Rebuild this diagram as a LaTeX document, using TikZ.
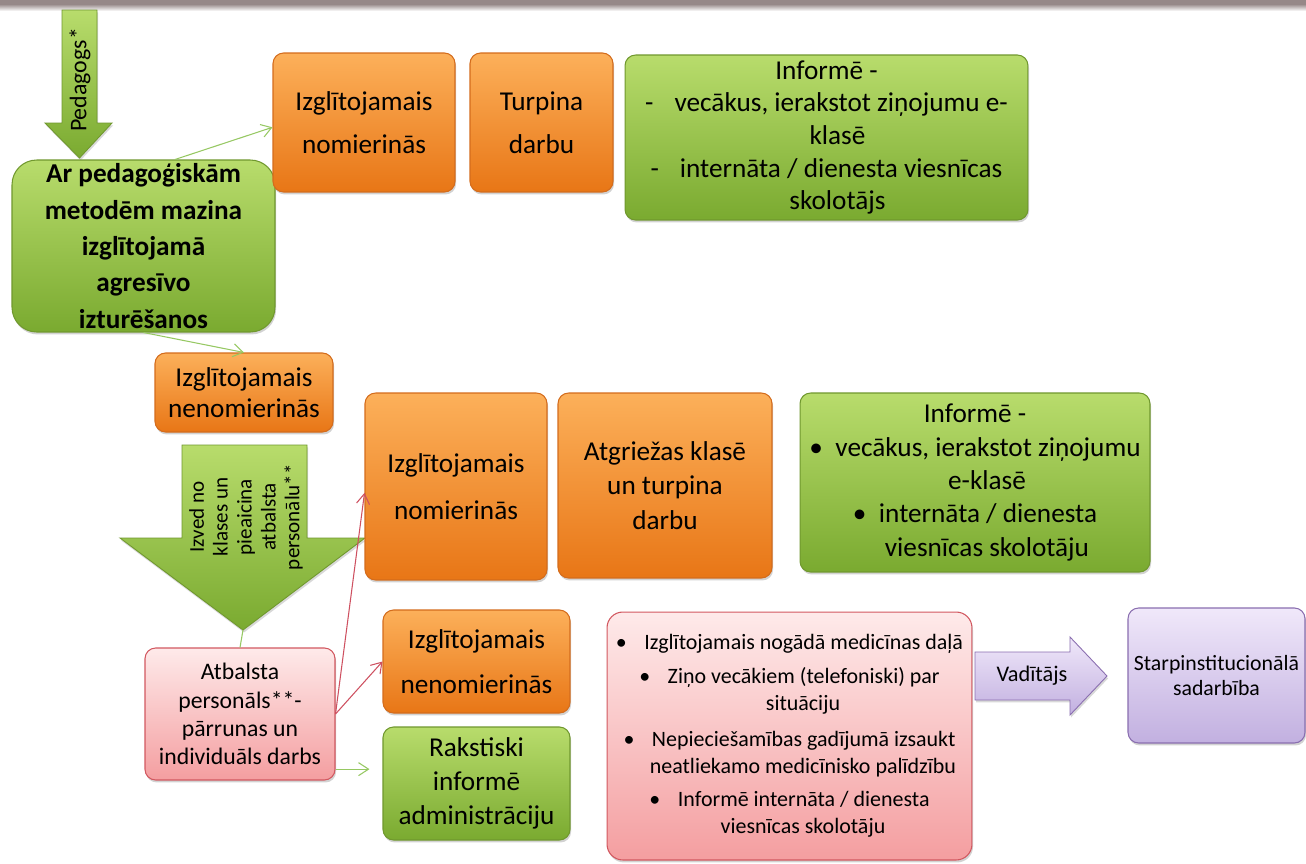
\documentclass[tikz,border=0pt]{standalone}
\usepackage{fontspec}
\setmainfont{Carlito}
\usepackage{tikz}
\usetikzlibrary{arrows.meta, shadows}
\definecolor{orgtop}{RGB}{252,176,90}
\definecolor{orgbot}{RGB}{232,118,22}
\definecolor{orgline}{RGB}{212,108,28}
\definecolor{grntop}{RGB}{184,220,108}
\definecolor{grnbot}{RGB}{122,170,48}
\definecolor{grnline}{RGB}{112,152,46}
\definecolor{pnktop}{RGB}{254,234,234}
\definecolor{pnkbot}{RGB}{244,158,160}
\definecolor{pnkline}{RGB}{210,88,96}
\definecolor{vlttop}{RGB}{240,232,250}
\definecolor{vltbot}{RGB}{194,176,224}
\definecolor{vltline}{RGB}{138,110,176}
\definecolor{lnkgreen}{RGB}{150,200,98}
\definecolor{lnkred}{RGB}{206,80,96}
\definecolor{bandgray}{RGB}{150,136,136}
\tikzset{
  txt/.style 2 args={font=\fontsize{#1}{#2}\selectfont},
  basebox/.style={draw,line width=0.6pt,align=center,inner sep=2pt,
    drop shadow={shadow xshift=0.6pt,shadow yshift=-1.4pt,opacity=0.35}},
  orgbox/.style={basebox,draw=orgline,top color=orgtop,bottom color=orgbot,rounded corners=6pt},
  grnbox/.style={basebox,draw=grnline,top color=grntop,bottom color=grnbot,rounded corners=6pt},
  pnkbox/.style={basebox,draw=pnkline,top color=pnktop,bottom color=pnkbot,rounded corners=6pt},
  vltbox/.style={basebox,draw=vltline,top color=vlttop,bottom color=vltbot,rounded corners=6pt},
  blkarrow/.style={draw=grnline,line width=0.5pt,top color=grntop,bottom color=grnbot,
    drop shadow={shadow xshift=0.6pt,shadow yshift=-1.4pt,opacity=0.3}},
  grnedge/.style={-{Straight Barb[length=2mm,width=2.6mm]},line width=0.6pt,lnkgreen},
  rededge/.style={grnedge,lnkred},
}

\begin{document}
\begin{tikzpicture}[x=0.02cm,y=-0.02cm]
  \useasboundingbox[fill=white] (0,0) rectangle (1306,863);
  % band at the top edge
  \shade[top color=bandgray,bottom color=white] (0,4) rectangle (1306,11);
  \fill[bandgray] (0,0) rectangle (1306,4);

  % block arrows
  \path[blkarrow] (62,10) -- (97,10) -- (97,123) -- (112,123) -- (79.5,158)
    -- (45,123) -- (62,123) -- cycle;
  \node[txt={13.6}{16},rotate=90] (tPed) at (80,80) {Pedagogs*};
  \path[blkarrow] (182,445) -- (307,445) -- (307,538) -- (365,538) -- (243,630)
    -- (120,538) -- (182,538) -- cycle;
  \coordinate (bigTip) at (243,630);
  \node[txt={12}{13.6},rotate=90,align=center] (tIzv) at (246,517)
    {Izved no\\klases un\\pieaicina\\atbalsta\\personālu**};
  \path[blkarrow,draw=vltline,top color=vlttop,bottom color=vltbot] (975,652) -- (1070,652)
    -- (1070,637) -- (1107,676) -- (1070,715) -- (1070,700) -- (975,700) -- cycle;
  \node[txt={12.7}{15}] (tVad) at (1032,676) {Vadītājs};

  % top row
  \node[grnbox,rounded corners=14pt,font=\fontsize{15.5}{20.7}\selectfont\bfseries,
    minimum width=5.26cm,minimum height=3.44cm] (gAgr) at (143.5,246)
    {Ar pedagoģiskām\\metodēm mazina\\izglītojamā\\agresīvo\\izturēšanos};
  \node[orgbox,txt={15.5}{24.4},minimum width=3.64cm,minimum height=2.78cm] (oTop1) at (364,122.5)
    {Izglītojamais\\nomierinās};
  \node[orgbox,txt={15.5}{24.4},minimum width=2.86cm,minimum height=2.78cm] (oTop2) at (541.5,122.5)
    {Turpina\\darbu};
  \node[grnbox,txt={15.5}{18.6},minimum width=8.06cm,minimum height=3.3cm] (gInf1) at (826.5,137.5)
    {Informē -\\-\hspace{0.42cm}vecākus, ierakstot ziņojumu e-\\\hspace*{0.44cm}klasē\\
     -\hspace{0.42cm}internāta / dienesta viesnīcas\\\hspace*{0.44cm}skolotājs};

  % middle rows
  \node[orgbox,txt={15.5}{18},minimum width=3.56cm,minimum height=1.58cm] (oMid) at (244,392.5)
    {Izglītojamais\\nenomierinās};
  \node[orgbox,txt={15.5}{26.6},minimum width=3.64cm,minimum height=3.74cm] (oBot1) at (456,486.5)
    {Izglītojamais\\nomierinās};
  \node[orgbox,txt={15.5}{19.8},minimum width=4.28cm,minimum height=3.7cm] (oAtg) at (665,485.5)
    {Atgriežas klasē\\un turpina\\darbu};
  \node[grnbox,txt={15.5}{19},minimum width=7cm,minimum height=3.58cm] (gInf2) at (975,482.5)
    {Informē -\\•\hspace{0.25cm}vecākus, ierakstot ziņojumu\\\hspace*{0.48cm}e-klasē\\
     •\hspace{0.25cm}internāta / dienesta\\\hspace*{0.48cm}viesnīcas skolotāju};

  % bottom rows
  \node[pnkbox,txt={13.5}{16},minimum width=3.8cm,minimum height=2.64cm] (pAtb) at (240,714)
    {Atbalsta\\personāls**-\\pārrunas un\\individuāls darbs};
  \node[orgbox,txt={15.5}{26},minimum width=3.74cm,minimum height=2.06cm] (oBot2) at (476.5,661.5)
    {Izglītojamais\\nenomierinās};
  \node[grnbox,txt={15.5}{19.3},minimum width=3.74cm,minimum height=2.26cm] (gRak) at (476.5,783.5)
    {Rakstiski\\informē\\administrāciju};
  \node[pnkbox,rounded corners=9pt,txt={12.5}{15.3},minimum width=7.3cm,minimum height=4.96cm] (pBul) at (789.5,736)
    {•\hspace{0.35cm}Izglītojamais nogādā medicīnas daļā\\[4pt]
     •\hspace{0.35cm}Ziņo vecākiem (telefoniski) par\\\hspace*{0.54cm}situāciju\\[5pt]
     •\hspace{0.35cm}Nepieciešamības gadījumā izsaukt\\\hspace*{0.54cm}neatliekamo medicīnisko palīdzību\\[4pt]
     •\hspace{0.35cm}Informē internāta / dienesta\\\hspace*{0.54cm}viesnīcas skolotāju};
  \node[vltbox,txt={12.4}{14.5},minimum width=3.54cm,minimum height=2.7cm] (vSta) at (1216.5,675.5)
    {Starpinstitucionālā\\sadarbība};

  % connectors
  \draw[grnedge] (gAgr.70) -- (oTop1.183);
  \draw[grnedge] (gAgr.south) -- (oMid.north);
  \draw[lnkgreen,line width=0.6pt] (bigTip) -- (pAtb.north);
  \draw[rededge] (pAtb.east) -- (oBot1.184);
  \draw[rededge] (pAtb.east) -- (oBot2.west);
  \draw[grnedge,shorten >=0.26cm] (pAtb.-30) -- (pAtb.-30 -| gRak.west);
\end{tikzpicture}
\end{document}
